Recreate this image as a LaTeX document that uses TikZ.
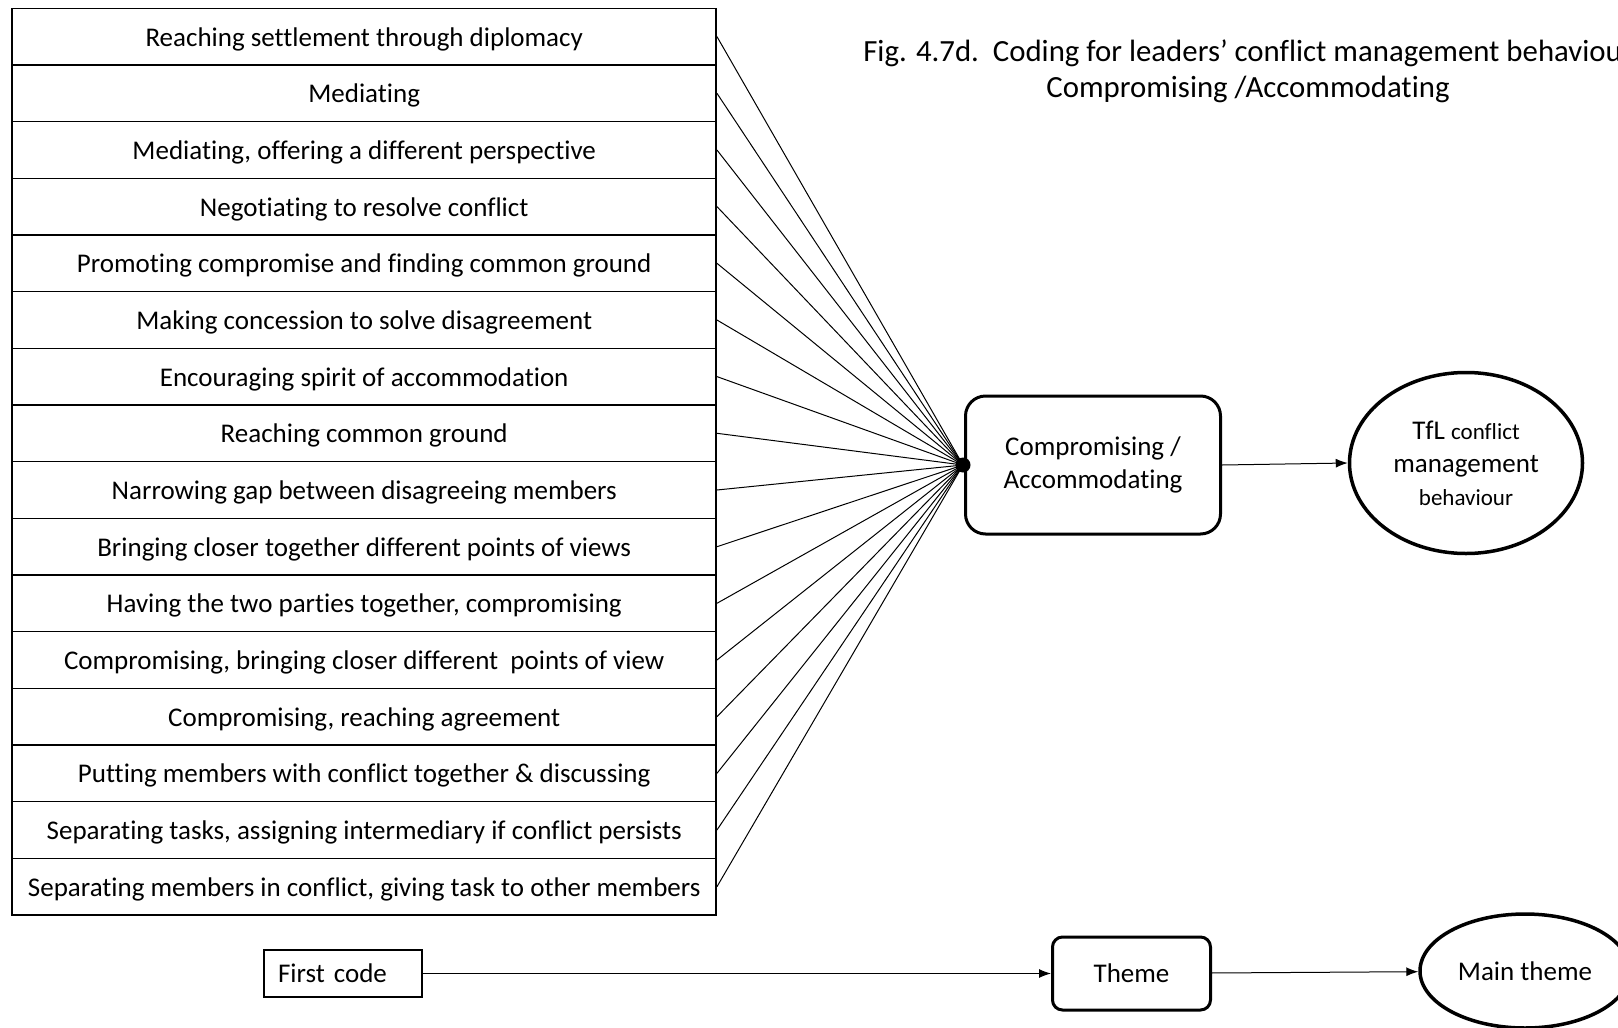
\documentclass[tikz,border=0pt]{standalone}
\usepackage{fontspec}
\setmainfont{Carlito}[Ligatures={NoCommon,NoContextual,TeX},Contextuals=NoAlternate]
\usepackage{tikz}
\usetikzlibrary{arrows.meta,shapes.geometric}
\newcommand\boxfont{\fontsize{27}{33}\selectfont}
\newcommand\smallfont{\fontsize{23}{28}\selectfont}
\newcommand\titlefont{\fontsize{30.8}{36}\selectfont}
\begin{document}
\begin{tikzpicture}[x=1pt,y=-1pt, every node/.style={font=\boxfont}, cn/.style={draw,line width=1.5pt,minimum width=704pt,minimum height=56.67pt,inner sep=0pt,text height=22pt,text depth=3pt,align=center}, rn/.style={draw,line width=3pt,rounded corners=20pt,minimum width=255pt,minimum height=138pt,align=center,inner sep=2pt}, en/.style={draw,ellipse,line width=3.5pt,minimum width=233pt,minimum height=181pt,align=center,inner sep=0pt}, ln/.style={line width=1pt}, an/.style={-{Latex[length=12pt,width=9pt]},line width=1pt}]
\useasboundingbox (0,0) rectangle (1618,1028);
\clip (0,0) rectangle (1618,1028);
\node[align=center,font=\titlefont] (ti) at (1248,71) {Fig. 4.7d.\ \ Coding for leaders’ conflict management behaviour\\Compromising /Accommodating};
\node[cn] (c1)  at (364.2,36.6)  {Reaching settlement through diplomacy};
\node[cn] (c2)  at (364.2,93.3)  {Mediating};
\node[cn] (c3)  at (364.2,150.0) {Mediating, offering a different perspective};
\node[cn] (c4)  at (364.2,206.6) {Negotiating to resolve conflict};
\node[cn] (c5)  at (364.2,263.3) {Promoting compromise and finding common ground};
\node[cn] (c6)  at (364.2,320.0) {Making concession to solve disagreement};
\node[cn] (c7)  at (364.2,376.6) {Encouraging spirit of accommodation};
\node[cn] (c8)  at (364.2,433.3) {Reaching common ground};
\node[cn] (c9)  at (364.2,490.0) {Narrowing gap between disagreeing members};
\node[cn] (c10) at (364.2,546.7) {Bringing closer together different points of views};
\node[cn] (c11) at (364.2,603.3) {Having the two parties together, compromising};
\node[cn] (c12) at (364.2,660.0) {Compromising, bringing closer different\ \ points of view};
\node[cn] (c13) at (364.2,716.7) {Compromising, reaching agreement};
\node[cn] (c14) at (364.2,773.3) {Putting members with conflict together \& discussing};
\node[cn] (c15) at (364.2,830.0) {Separating tasks, assigning intermediary if conflict persists};
\node[cn] (c16) at (364.2,886.7) {Separating members in conflict, giving task to other members};
\node[rn] (cp)  at (1093,465)   {Compromising /\\Accommodating};
\node[circle,fill,inner sep=0pt,minimum size=15pt] (hub) at (963,465) {};
\node[en] (tfl) at (1466,463)   {TfL {\smallfont conflict}\\management\\{\smallfont behaviour}};
\draw[ln] (c1.east)--(hub.center);
\draw[ln] (c2.east)--(hub.center);
\draw[ln] (c3.east)--(hub.center);
\draw[ln] (c4.east)--(hub.center);
\draw[ln] (c5.east)--(hub.center);
\draw[ln] (c6.east)--(hub.center);
\draw[ln] (c7.east)--(hub.center);
\draw[ln] (c8.east)--(hub.center);
\draw[ln] (c9.east)--(hub.center);
\draw[ln] (c10.east)--(hub.center);
\draw[ln] (c11.east)--(hub.center);
\draw[ln] (c12.east)--(hub.center);
\draw[ln] (c13.east)--(hub.center);
\draw[ln] (c14.east)--(hub.center);
\draw[ln] (c15.east)--(hub.center);
\draw[ln] (c16.east)--(hub.center);
\draw[an] (cp.east)--(tfl.west);
% key
\node[draw,line width=1.5pt,text width=130pt,inner xsep=14pt,inner ysep=0pt,minimum height=47pt,align=left] (fc) at (343,973.5) {First code};
\node[rn,rounded corners=10pt,minimum width=158pt,minimum height=73pt] (th) at (1131.5,973.5) {Theme};
\node[en,minimum width=210pt,minimum height=114pt] (mt) at (1525,971) {Main theme};
\draw[an] (fc.east)--(th.west);
\draw[an] (th)--(mt);
\end{tikzpicture}
\end{document}
